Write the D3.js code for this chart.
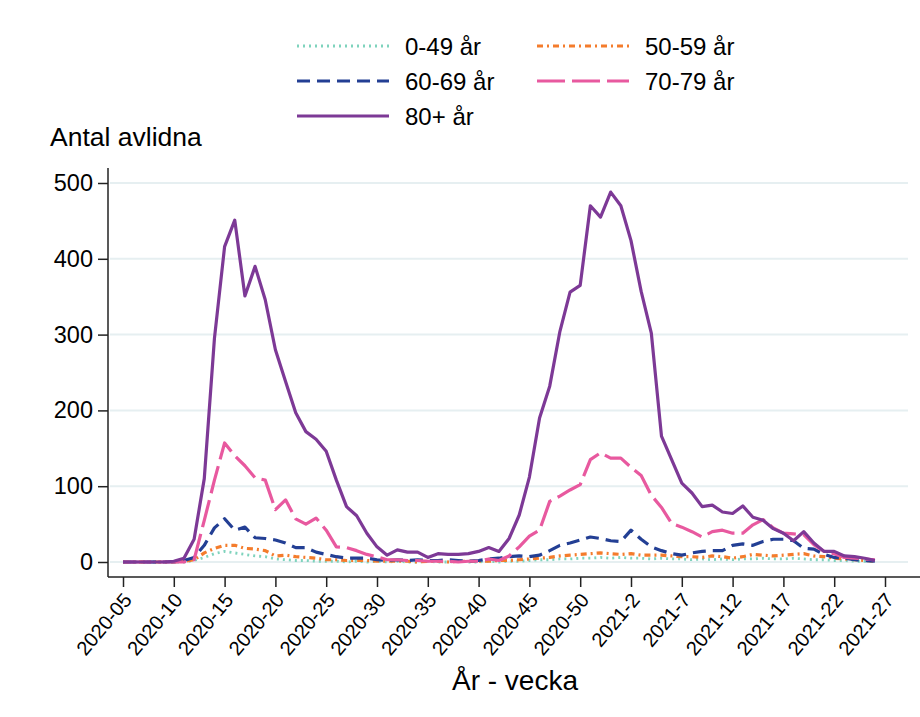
<!DOCTYPE html>
<html>
<head>
<meta charset="utf-8">
<script src="https://cdn.jsdelivr.net/npm/d3@7"></script>
<style>
  html, body { margin: 0; padding: 0; background: #fff; }
  svg { display: block; font-family: "Liberation Sans", Arial, sans-serif; }
</style>
</head>
<body>
<svg id="chart" width="920" height="717"></svg>
<script>
// ---- Data ----
const weeks = [
  "2020-05","2020-06","2020-07","2020-08","2020-09","2020-10","2020-11","2020-12","2020-13","2020-14",
  "2020-15","2020-16","2020-17","2020-18","2020-19","2020-20","2020-21","2020-22","2020-23","2020-24",
  "2020-25","2020-26","2020-27","2020-28","2020-29","2020-30","2020-31","2020-32","2020-33","2020-34",
  "2020-35","2020-36","2020-37","2020-38","2020-39","2020-40","2020-41","2020-42","2020-43","2020-44",
  "2020-45","2020-46","2020-47","2020-48","2020-49","2020-50","2020-51","2020-52","2020-53","2021-1",
  "2021-2","2021-3","2021-4","2021-5","2021-6","2021-7","2021-8","2021-9","2021-10","2021-11",
  "2021-12","2021-13","2021-14","2021-15","2021-16","2021-17","2021-18","2021-19","2021-20","2021-21",
  "2021-22","2021-23","2021-24","2021-25","2021-26","2021-27"
];

const tickLabels = ["2020-05","2020-10","2020-15","2020-20","2020-25","2020-30","2020-35","2020-40",
  "2020-45","2020-50","2021-2","2021-7","2021-12","2021-17","2021-22","2021-27"];

const yTicks = [0, 100, 200, 300, 400, 500];

const age0_49 = [0,0,0,0,0,0,0,2,6,11,14,12,10,8,7,4,3,2,2,1,1,1,0,1,0,1,0,1,0,0,1,0,0,1,0,0,1,0,1,1,
  2,3,3,4,4,5,5,6,5,6,5,5,4,5,4,4,3,4,3,4,3,4,4,5,4,4,5,4,3,3,2,2,1,1,1];
const age50_59 = [0,0,0,0,0,0,1,3,12,18,22,22,18,17,15,8,9,7,6,5,3,3,2,2,2,1,1,1,1,0,1,1,0,1,1,1,1,2,2,3,
  4,5,6,8,9,10,11,12,11,10,11,9,9,9,8,7,7,6,8,7,5,7,10,9,8,9,10,11,8,7,5,4,3,2,1];
const age60_69 = [0,0,0,0,0,0,2,6,22,45,57,42,46,32,31,29,25,19,19,13,10,7,5,5,5,3,2,3,2,3,2,2,3,2,1,2,4,5,7,8,
  7,9,15,22,25,29,33,31,28,27,42,30,20,15,11,9,12,14,15,15,22,24,22,27,30,30,28,18,17,10,6,5,3,2,1];
const age70_79 = [0,0,0,0,0,0,0,3,55,108,157,140,127,111,108,69,82,57,50,58,42,20,19,15,10,7,3,3,2,2,1,1,1,0,1,1,4,2,8,20,
  34,42,80,87,95,102,135,144,137,137,125,114,88,72,51,46,40,33,40,42,38,38,49,56,45,38,37,36,23,14,11,6,5,4,3];
const age80plus = [0,0,0,0,0,1,5,30,110,295,416,451,351,390,346,280,238,197,172,162,146,108,73,61,38,20,9,16,13,13,6,11,10,10,11,14,19,14,31,62,
  112,190,232,304,356,365,470,455,488,470,424,357,302,166,135,104,91,73,75,66,64,74,59,55,44,38,28,40,25,14,14,8,7,5,2];

const seriesNames = ["0-49 år", "50-59 år", "60-69 år", "70-79 år", "80+ år"];
const seriesValues = [age0_49, age50_59, age60_69, age70_79, age80plus];
const seriesColors = ["#7fd3bd", "#f47c2c", "#233f94", "#e8599f", "#7d3996"];
const seriesDash = ["2,4", "6,4,2,4", "13,7", "28,7", null];
const seriesWidth = [2.8, 3.2, 3.2, 3.2, 3.2];

// ---- Layout ----
const svg = d3.select("#chart");
const axisLeftX = 108, axisBottomY = 577, axisRightX = 920;

const x = d3.scalePoint().domain(weeks).range([123, 885]);
const y = d3.scaleLinear().domain([0, 500]).range([562, 183]);

// gridlines
svg.append("g").selectAll("line").data(yTicks).join("line")
  .attr("x1", axisLeftX + 2).attr("x2", 908)
  .attr("y1", d => y(d)).attr("y2", d => y(d))
  .attr("stroke", "#e6eff1").attr("stroke-width", 2);

// lines
const line = d3.line().x((d, i) => x(weeks[i])).y(d => y(d));
seriesValues.forEach((vals, k) => {
  svg.append("path").datum(vals)
    .attr("d", line)
    .attr("fill", "none")
    .attr("stroke", seriesColors[k])
    .attr("stroke-width", seriesWidth[k])
    .attr("stroke-linejoin", "round")
    .attr("stroke-dasharray", seriesDash[k]);
});

// y axis
const yAxis = d3.axisLeft(y).tickValues(yTicks).tickSize(10).tickPadding(5);
const gy = svg.append("g").attr("transform", `translate(${axisLeftX},0)`).call(yAxis);
gy.select(".domain").remove();
gy.selectAll(".tick line").attr("stroke", "#222").attr("stroke-width", 1.5);
gy.selectAll(".tick text").attr("font-size", 23.5).attr("fill", "#000")
  .attr("font-family", "Liberation Sans, Arial, sans-serif");
svg.append("line").attr("x1", axisLeftX).attr("x2", axisLeftX)
  .attr("y1", 168).attr("y2", axisBottomY).attr("stroke", "#222").attr("stroke-width", 1.5);

// x axis
const xAxis = d3.axisBottom(x).tickValues(tickLabels).tickSize(10).tickPadding(4);
const gx = svg.append("g").attr("transform", `translate(0,${axisBottomY})`).call(xAxis);
gx.select(".domain").remove();
gx.selectAll(".tick line").attr("stroke", "#222").attr("stroke-width", 1.5);
gx.selectAll(".tick text")
  .attr("font-size", 20).attr("fill", "#000")
  .attr("font-family", "Liberation Sans, Arial, sans-serif")
  .attr("text-anchor", "end")
  .attr("dy", "0.35em")
  .attr("transform", "translate(4,19) rotate(-50)")
  .attr("y", 0).attr("x", 0);
svg.append("line").attr("x1", axisLeftX).attr("x2", axisRightX)
  .attr("y1", axisBottomY).attr("y2", axisBottomY).attr("stroke", "#222").attr("stroke-width", 1.5);

// titles
svg.append("text").attr("x", 50).attr("y", 146).attr("font-size", 26.5).attr("fill", "#000")
  .text("Antal avlidna");
svg.append("text").attr("x", 515).attr("y", 690).attr("text-anchor", "middle")
  .attr("font-size", 28).attr("fill", "#000").text("År - vecka");

// legend
const legendPos = [
  {lx: 297, ly: 46}, {lx: 537, ly: 46},
  {lx: 297, ly: 81}, {lx: 537, ly: 81},
  {lx: 297, ly: 116}
];
const legendOrder = [0, 1, 2, 3, 4];
const lg = svg.append("g");
legendOrder.forEach((k, j) => {
  const p = legendPos[j];
  lg.append("line").attr("x1", p.lx).attr("x2", p.lx + 92)
    .attr("y1", p.ly).attr("y2", p.ly)
    .attr("stroke", seriesColors[k]).attr("stroke-width", seriesWidth[k])
    .attr("stroke-dasharray", seriesDash[k]);
  lg.append("text").attr("x", p.lx + 108).attr("y", p.ly + 8.5)
    .attr("font-size", 24).attr("fill", "#000").text(seriesNames[k]);
});
</script>
</body>
</html>
